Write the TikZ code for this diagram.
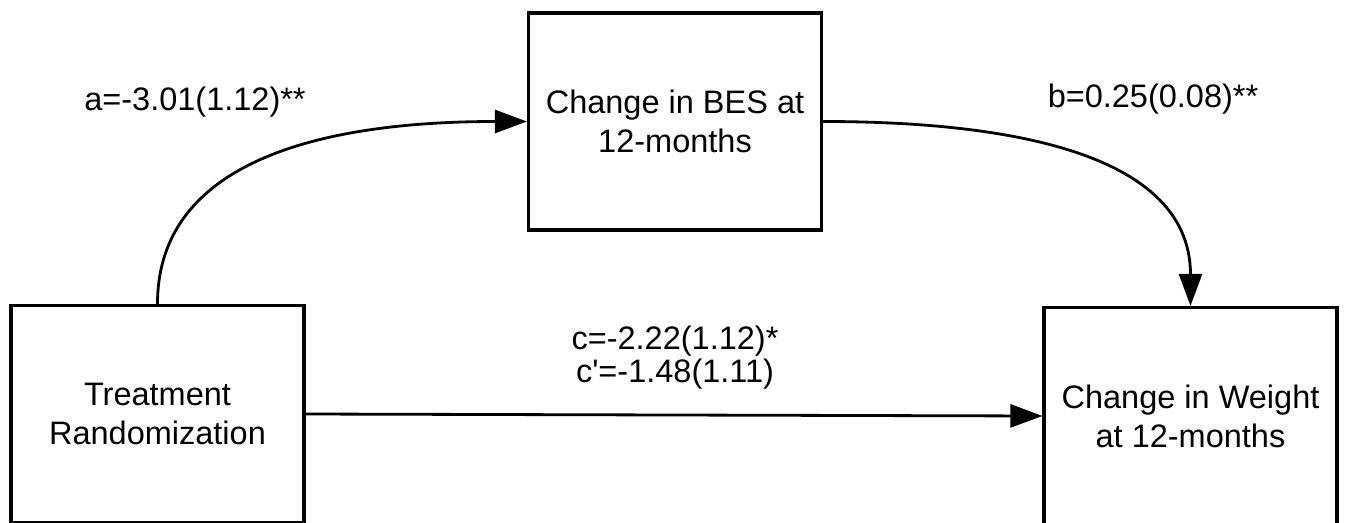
\documentclass[tikz,border=0pt]{standalone}
\usepackage{fontspec}
\setmainfont{Liberation Sans}
\usetikzlibrary{arrows.meta}
\begin{document}
\begin{tikzpicture}[x=1pt,y=-1pt,
  box/.style={draw=black,line width=3.2pt,fill=white,minimum width=293pt,minimum height=217pt,inner sep=0pt,align=center,font=\fontsize{32.5}{39}\selectfont},
  lbl/.style={font=\fontsize{32.5}{33}\selectfont,align=center,inner sep=0pt},
  conn/.style={line width=2.8pt,-{Triangle[length=32pt,width=23pt]}}]
\clip (0,0) rectangle (1346,522);
\fill[white] (0,0) rectangle (1346,522);
\node[box] (A) at (157.5,414) {Treatment\\Randomization};
\node[box] (B) at (675,121.5) {Change in BES at\\12-months};
\node[box] (C) at (1190.5,416) {Change in Weight\\at 12-months};
\draw[conn] (A.north) to[out=90,in=180] (B.west);
\draw[conn] (B.east) to[out=0,in=90] (C.north);
\draw[conn] (A.east) -- (C.west);
\node[lbl,anchor=base] (la) at (195,110) {a=-3.01(1.12)**};
\node[lbl,anchor=base] (lb) at (1153,107) {b=0.25(0.08)**};
\node[lbl] (lc) at (675,358) {c=-2.22(1.12)*\\c\textquotesingle=-1.48(1.11)};
\end{tikzpicture}
\end{document}
